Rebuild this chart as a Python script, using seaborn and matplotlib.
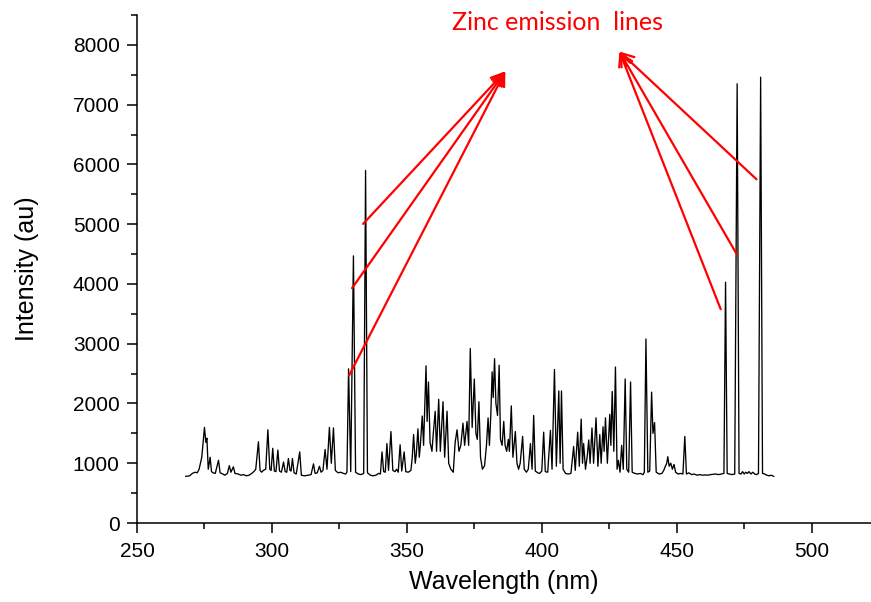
import matplotlib
matplotlib.use("Agg")
import matplotlib.pyplot as plt
from matplotlib.ticker import MultipleLocator
import seaborn as sns
import pandas as pd

# Spectrum (wavelength in nm, intensity in a.u.)
wavelength_nm = [
    268.0, 269.5, 270.5, 271.5, 272.3, 273.0, 274.0, 275.0, 275.5, 275.9, 276.4, 277.1, 277.6, 278.2, 279.0,
    280.2, 280.8, 281.8, 282.5, 283.5, 284.2, 284.8, 285.7, 286.3, 287.5, 288.5, 289.5, 290.5, 291.5, 292.5,
    293.3, 294.0, 295.0, 295.6, 296.2, 296.8, 297.7, 298.5, 299.2, 299.7, 300.3, 300.9, 301.5, 302.2, 302.8,
    303.5, 304.3, 304.9, 305.5, 306.1, 306.7, 307.1, 307.6, 308.2, 309.0, 310.3, 310.9, 312.0, 313.5, 314.5,
    315.4, 316.0, 316.8, 317.6, 318.2, 318.9, 319.7, 320.4, 321.3, 322.0, 322.8, 323.5, 324.5, 325.5, 326.5,
    327.3, 327.8, 328.4, 329.2, 330.2, 331.0, 332.0, 333.0, 334.0, 334.7, 335.4, 336.5, 337.5, 338.5, 339.5,
    340.2, 340.8, 341.4, 342.0, 342.6, 343.2, 344.1, 344.8, 345.6, 346.2, 346.8, 347.5, 348.1, 349.0, 349.6,
    350.5, 351.5, 352.0, 352.5, 353.1, 353.5, 354.1, 354.6, 355.0, 355.7, 356.2, 357.1, 357.5, 358.0, 358.6,
    359.3, 359.8, 360.5, 361.0, 361.8, 362.4, 363.4, 364.0, 364.9, 365.5, 366.3, 367.2, 367.9, 368.6, 369.3,
    370.0, 370.8, 371.4, 372.3, 372.9, 373.5, 374.2, 375.0, 375.6, 376.1, 376.7, 377.3, 378.0, 378.8, 379.5,
    380.1, 380.6, 381.1, 381.6, 382.0, 382.5, 383.0, 383.6, 384.2, 384.7, 385.3, 385.9, 386.4, 387.0, 387.6,
    388.0, 388.7, 389.3, 390.2, 390.8, 391.4, 392.0, 392.9, 393.5, 394.3, 395.0, 395.8, 396.4, 397.0, 397.6,
    398.5, 399.2, 400.0, 400.7, 401.3, 402.2, 403.2, 403.8, 404.7, 405.4, 406.3, 406.8, 407.3, 407.9, 408.8,
    409.8, 410.8, 411.8, 412.4, 413.3, 413.9, 414.6, 415.1, 415.5, 416.2, 416.8, 417.4, 417.9, 418.6, 419.2,
    420.1, 420.8, 421.5, 422.0, 422.7, 423.1, 423.6, 424.3, 425.2, 425.6, 426.1, 426.7, 427.3, 427.9, 428.4,
    429.0, 429.6, 430.2, 430.9, 431.5, 432.2, 432.9, 433.5, 434.5, 435.5, 436.5, 437.5, 438.0, 438.6, 439.3,
    440.0, 440.7, 441.2, 441.8, 442.4, 443.5, 444.5, 445.2, 445.8, 446.3, 446.7, 447.2, 447.8, 448.4, 449.0,
    449.6, 450.5, 451.5, 452.3, 453.0, 453.6, 454.5, 455.5, 456.5, 457.5, 458.5, 459.5, 460.5, 461.5, 462.5,
    463.5, 464.5, 465.5, 466.5, 467.5, 468.1, 468.7, 469.5, 470.5, 471.5, 472.4, 473.1, 473.8, 474.4, 475.0,
    475.6, 476.2, 476.8, 477.5, 478.2, 478.9, 479.6, 480.3, 481.1, 481.8, 482.6, 483.4, 484.2, 485.0, 486.0,
]
intensity_au = [
    780, 790, 830, 850, 840, 900, 1100, 1600, 1350, 1420, 900, 1100, 860, 840, 830,
    1050, 840, 820, 800, 830, 960, 850, 940, 830, 820, 800, 810, 790, 800, 830,
    860, 900, 1360, 880, 850, 880, 900, 1560, 900, 880, 1250, 870, 860, 1220, 870,
    850, 1020, 860, 850, 1080, 880, 870, 1080, 840, 820, 1190, 800, 790, 800, 810,
    990, 830, 840, 950, 850, 880, 1230, 900, 1600, 1000, 1590, 880, 840, 850, 830,
    820, 850, 2580, 860, 4470, 850, 820, 810, 830, 5900, 840, 800, 790, 800, 830,
    820, 1190, 860, 850, 1330, 880, 1530, 880, 860, 900, 850, 1310, 870, 1190, 860,
    850, 880, 1100, 1480, 1000, 1150, 1575, 1100, 1300, 1790, 1300, 2630, 1700, 2360, 1350,
    1200, 1500, 1870, 1200, 2070, 1200, 2030, 1100, 1870, 1000, 900, 850, 1350, 1560, 1200,
    1300, 1670, 1300, 1700, 1300, 2920, 1600, 2410, 1500, 1400, 2030, 1100, 900, 960, 1300,
    1760, 1300, 1800, 2530, 2100, 2750, 2000, 1800, 2640, 1400, 1300, 1700, 1300, 1200, 1400,
    1200, 1960, 1100, 1530, 1000, 900, 1000, 1450, 900, 850, 900, 1330, 900, 1800, 870,
    840, 830, 870, 1520, 860, 850, 1550, 900, 2570, 950, 2210, 1000, 2210, 900, 830,
    820, 830, 1280, 880, 1520, 950, 1740, 1000, 1330, 900, 1100, 1390, 1000, 1590, 1000,
    1760, 950, 1480, 1000, 1610, 1200, 1760, 1000, 1820, 1300, 2200, 1200, 2610, 900, 1050,
    850, 1300, 900, 2410, 900, 850, 2360, 850, 830, 820, 830, 810, 850, 3080, 850,
    870, 2190, 1500, 1680, 850, 820, 830, 880, 950, 1000, 1110, 950, 1000, 900, 980,
    850, 820, 830, 820, 1450, 820, 840, 810, 820, 800, 810, 800, 805, 800, 810,
    815, 820, 810, 820, 830, 4030, 830, 820, 810, 820, 7350, 830, 820, 860, 820,
    850, 830, 860, 820, 850, 820, 810, 830, 7460, 830, 820, 800, 790, 800, 780,
]

x_ticks = [250, 300, 350, 400, 450, 500]
y_ticks = [0, 1000, 2000, 3000, 4000, 5000, 6000, 7000, 8000]

annotation_text = "Zinc emission  lines"
left_arrow_head = (386.5, 7560)
left_arrow_tails = [(333.8, 5006), (329.7, 3931), (328.6, 2470)]
right_arrow_head = (428.8, 7889)
right_arrow_tails = [(479.6, 5751), (472.2, 4502), (466.3, 3578)]

sns.set_style("ticks")
plt.rcParams["font.family"] = ["Liberation Sans", "DejaVu Sans"]

df = pd.DataFrame({"Wavelength": wavelength_nm, "Intensity": intensity_au})

fig = plt.figure(figsize=(8.71, 6.02), dpi=100)
ax = fig.add_axes([0.1573, 0.1312, 0.8427, 0.8438])

sns.lineplot(data=df, x="Wavelength", y="Intensity", ax=ax, color="black",
             linewidth=0.95, estimator=None, sort=False)

ax.set_xlim(250, 522)
ax.set_ylim(0, 8500)
ax.set_xticks(x_ticks)
ax.set_yticks(y_ticks)
ax.xaxis.set_minor_locator(MultipleLocator(25))
ax.yaxis.set_minor_locator(MultipleLocator(500))
ax.tick_params(axis="both", which="major", direction="out", length=7.5, width=1.1,
               labelsize=15, colors="black", pad=5)
ax.tick_params(axis="both", which="minor", direction="out", length=4, width=1.1,
               colors="black")
ax.tick_params(axis="x", which="major", pad=6)

for side in ["top", "right"]:
    ax.spines[side].set_visible(False)
for side in ["left", "bottom"]:
    ax.spines[side].set_linewidth(1.1)
    ax.spines[side].set_color("black")

ax.set_xlabel("Wavelength (nm)", fontsize=18, labelpad=7, color="black")
ax.set_ylabel("Intensity (au)", fontsize=18, labelpad=24, color="black")

ax.text(405.8, 8370, annotation_text, color="red", fontsize=18,
        family=["Lato", "DejaVu Sans"], ha="center", va="center")

arrow_props = dict(arrowstyle="->", color="red", lw=1.6, mutation_scale=22,
                   shrinkA=0, shrinkB=0)
for tail in left_arrow_tails:
    ax.annotate("", xy=left_arrow_head, xytext=tail, arrowprops=arrow_props)
for tail in right_arrow_tails:
    ax.annotate("", xy=right_arrow_head, xytext=tail, arrowprops=arrow_props)

fig.savefig("out.png", dpi=100)
